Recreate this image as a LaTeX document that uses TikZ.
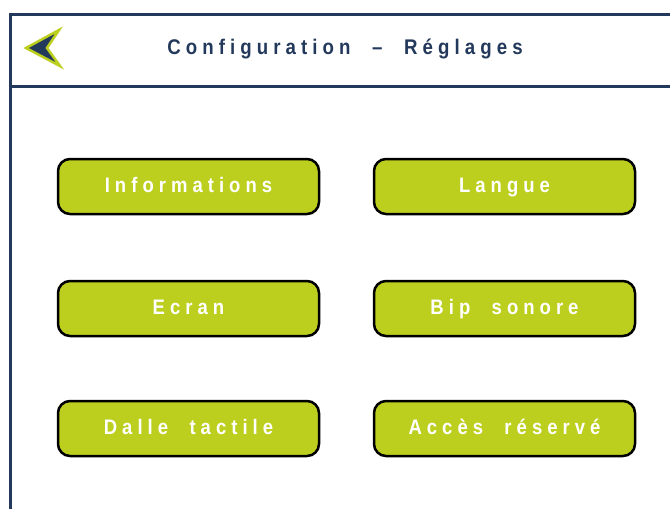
\documentclass[tikz,border=0pt]{standalone}
\usepackage{fontspec}
\newfontfamily\uifont{Liberation Sans}[LetterSpace=24, FakeStretch=0.88, WordSpace=2.1]
\usetikzlibrary{positioning}
\definecolor{navy}{HTML}{23395B}
\definecolor{lime}{HTML}{BDCF1E}
\tikzstyle{btnbox}=[rectangle, rounded corners=12pt, draw=black, line width=2.5pt, fill=lime,
 minimum width=261pt, minimum height=55pt, text height=15pt, text depth=4pt, text=white,
 font=\uifont\bfseries\fontsize{21}{24}\selectfont]
\tikzstyle{frameline}=[navy, line width=3pt]
\tikzstyle{titletext}=[text=navy, font=\uifont\bfseries\fontsize{21.2}{24}\selectfont]

\begin{document}
\begin{tikzpicture}[x=1pt, y=-1pt]
    \useasboundingbox (0,0) rectangle (670,509);
    \fill[white] (0,0) rectangle (670,509);

% header frame
    \draw[frameline] (672,14) -- (10,14) -- (10,511);
    \draw[frameline] (10,86.5) -- (672,86.5);

% back arrow
    \node (back) at (43,48) {};
    \draw[fill=navy, draw=lime, line width=2.5pt, line join=miter]
        (26,48) -- (59,30) -- (47,48) -- (60,66) -- cycle;
    \node (title) [titletext] at (345,49) {Configuration – Réglages};

% buttons
    \node (info) [btnbox] at (188.5,186.5) {Informations};
    \node (langue) [btnbox, right=52.5pt of info] {Langue};
    \node (ecran) [btnbox, below=64.5pt of info] {Ecran};
    \node (bip) [btnbox, right=52.5pt of ecran] {Bip sonore};
    \node (dalle) [btnbox, below=62.5pt of ecran] {Dalle tactile};
    \node (acces) [btnbox, right=52.5pt of dalle] {Accès réservé};

\end{tikzpicture}
\end{document}
